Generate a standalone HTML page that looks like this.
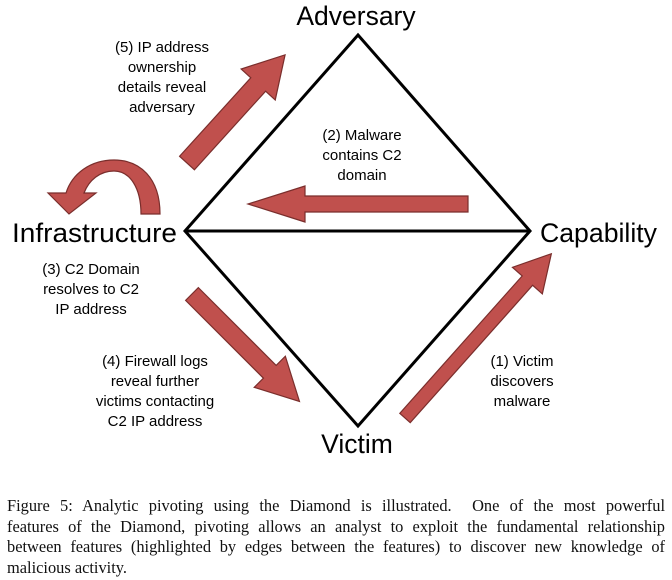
<!DOCTYPE html>
<html><head><style>
body{margin:0;width:672px;height:580px;background:#fff;overflow:hidden;position:relative}
svg{position:absolute;left:0;top:0}
.cap{position:absolute;left:7px;top:496px;width:658px;font-family:"Liberation Serif",serif;font-size:16.4px;line-height:20.5px;color:#111}
.cap div{text-align:justify;text-align-last:justify;white-space:nowrap;height:20.5px}
.cap div.l{text-align-last:left}
</style></head><body>
<svg width="672" height="500" viewBox="0 0 672 500">
<g stroke="#000" stroke-width="3" fill="none">
<polygon points="358,35 530,231 358,426 185,231"/>
<line x1="185" y1="231" x2="530" y2="231"/>
</g>
<g fill="#c0504d" stroke="#7a2e2c" stroke-width="1.2">
<g transform="translate(187,163) rotate(-47.8)"><polygon points="0,-10 106,-10 106,-23 146,0 106,23 106,10 0,10"/></g>
<g transform="translate(468,204) rotate(180)"><polygon points="0,-8 163,-8 163,-18 220,0 163,18 163,8 0,8"/></g>
<g transform="translate(192,294) rotate(45)"><polygon points="0,-9 110,-9 110,-22 152,0 110,22 110,9 0,9"/></g>
<g transform="translate(405,418) rotate(-48.3)"><polygon points="0,-7 184,-7 184,-20 220,0 184,20 184,7 0,7"/></g>
<path d="M141,214 L160,214 C160,178 140,160 114,160 C90,160 72,174 66,193 L48,193 L69,214 L96,193 L84,193 C89,180 100,171 114,171 C130,171 141,188 141,214 Z"/>
</g>
<g font-family="Liberation Sans, sans-serif" fill="#000">
<text x="356" y="25" font-size="26.5" text-anchor="middle">Adversary</text>
<text x="12" y="242" font-size="26.5" textLength="165" lengthAdjust="spacingAndGlyphs">Infrastructure</text>
<text x="540" y="242" font-size="26.5" textLength="117" lengthAdjust="spacingAndGlyphs">Capability</text>
<text x="357" y="453" font-size="26.5" text-anchor="middle">Victim</text>
<g font-size="15" text-anchor="middle">
<text x="162" y="52">(5) IP address</text><text x="162" y="72">ownership</text><text x="162" y="92">details reveal</text><text x="162" y="112">adversary</text>
<text x="362" y="140">(2) Malware</text><text x="362" y="160">contains C2</text><text x="362" y="180">domain</text>
<text x="91" y="274">(3) C2 Domain</text><text x="91" y="294">resolves to C2</text><text x="91" y="314">IP address</text>
<text x="155" y="366">(4) Firewall logs</text><text x="155" y="386">reveal further</text><text x="155" y="406">victims contacting</text><text x="155" y="426">C2 IP address</text>
<text x="522" y="366">(1) Victim</text><text x="522" y="386">discovers</text><text x="522" y="406">malware</text>
</g></g>
</svg>
<div class="cap">
<div>Figure 5: Analytic pivoting using the Diamond is illustrated.&nbsp; One of the most powerful</div>
<div>features of the Diamond, pivoting allows an analyst to exploit the fundamental relationship</div>
<div>between features (highlighted by edges between the features) to discover new knowledge of</div>
<div class="l">malicious activity.</div>
</div>
</body></html>
